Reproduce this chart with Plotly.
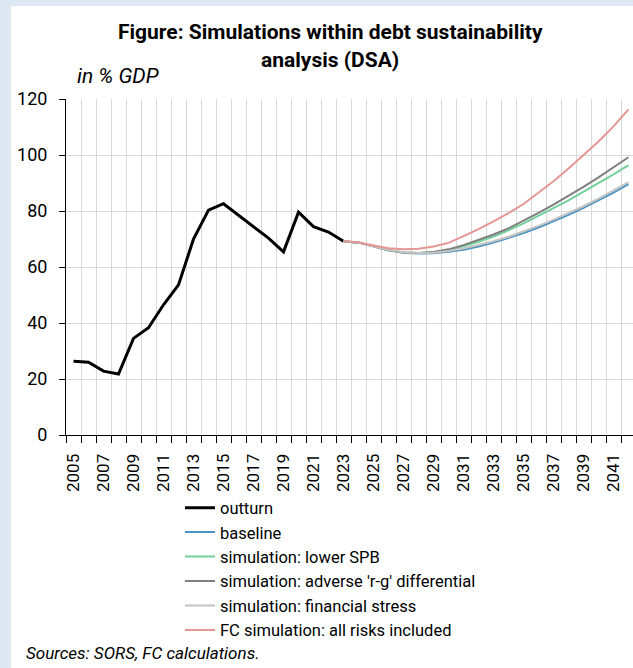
import plotly.graph_objects as go

# Gross general government debt, % of GDP
outturn_years = list(range(2005, 2024))
outturn = [26.3, 26.0, 22.8, 21.8, 34.5, 38.3, 46.5, 53.6, 70.0, 80.3,
           82.6, 78.5, 74.2, 70.3, 65.4, 79.6, 74.4, 72.5, 69.2]

proj_years = list(range(2023, 2043))
baseline = [69.2, 68.7, 67.4, 66.0, 65.1, 64.8, 64.9, 65.4, 66.2, 67.3,
            68.7, 70.3, 72.1, 74.1, 76.3, 78.6, 81.1, 83.8, 86.6, 89.6]
lower_spb = [69.2, 68.7, 67.4, 66.0, 65.2, 65.0, 65.3, 66.1, 67.4, 69.0,
             70.9, 73.1, 75.6, 78.2, 81.0, 83.8, 86.8, 89.9, 93.1, 96.4]
adverse_rg = [69.2, 68.7, 67.4, 66.0, 65.2, 65.0, 65.4, 66.3, 67.8, 69.6,
              71.6, 73.8, 76.5, 79.3, 82.3, 85.4, 88.6, 92.0, 95.5, 99.2]
fin_stress = [69.2, 68.7, 67.4, 66.1, 65.3, 65.0, 65.1, 65.7, 66.6, 67.8,
              69.2, 70.8, 72.7, 74.7, 76.9, 79.2, 81.7, 84.4, 87.3, 90.3]
all_risks = [69.2, 68.8, 67.7, 66.7, 66.3, 66.5, 67.3, 68.6, 71.0, 73.5,
             76.3, 79.2, 82.5, 86.4, 90.6, 95.2, 100.0, 104.8, 110.2, 116.3]

tick_years = list(range(2005, 2042, 2))
tick_labels = [str(y) for y in tick_years]
boundaries = [y + 0.5 for y in range(2004, 2043)]

FONT = "Roboto, Liberation Sans, sans-serif"
PANEL_BLUE = "#dde8f4"
GRID = "#d9d9d9"

fig = go.Figure()

series = [
    ("outturn", outturn_years, outturn, "#000000", 3),
    ("baseline", proj_years, baseline, "#4b93c3", 2),
    ("simulation: lower SPB", proj_years, lower_spb, "#72d19b", 2),
    ("simulation: adverse 'r-g' differential", proj_years, adverse_rg, "#7f7f7f", 2),
    ("simulation: financial stress", proj_years, fin_stress, "#c4c4c4", 2),
    ("FC simulation: all risks included", proj_years, all_risks, "#e39693", 2),
]
for name, xs, ys, color, width in series:
    fig.add_trace(go.Scatter(x=xs, y=ys, name=name, mode="lines",
                             line=dict(color=color, width=width)))

fig.update_layout(
    width=633, height=668,
    margin=dict(l=66, r=0, t=99, b=233),
    paper_bgcolor="white", plot_bgcolor="white",
    font=dict(family=FONT, size=18, color="#000000"),
    showlegend=True,
    legend=dict(x=0.201, y=-0.165, xanchor="left", yanchor="top",
                bgcolor="rgba(0,0,0,0)", font=dict(size=16.5),
                tracegroupgap=0, itemwidth=30),
    xaxis=dict(
        range=[2004.5, 2042.3], tickmode="array", tickvals=tick_years,
        ticktext=tick_labels, tickangle=-90, ticks="", showgrid=False,
        showline=True, linecolor="#000000", linewidth=1, zeroline=False,
        tickfont=dict(size=17), ticklabelstandoff=11,
        minor=dict(tickmode="array", tickvals=boundaries, ticks="outside",
                   ticklen=7, tickcolor="#000000", tickwidth=1,
                   showgrid=True, gridcolor=GRID, gridwidth=1),
    ),
    yaxis=dict(
        range=[0, 120], tickmode="linear", tick0=0, dtick=20,
        ticks="outside", ticklen=6, tickcolor="#000000",
        showgrid=True, gridcolor=GRID, gridwidth=1,
        showline=True, linecolor="#000000", linewidth=1, zeroline=False,
        tickfont=dict(size=18), ticklabelstandoff=8,
    ),
)

# light blue frame along the left and top edges
fig.add_shape(type="rect", xref="paper", yref="paper", layer="below",
              x0=-0.2, x1=(11 - 66) / 567, y0=-0.8, y1=1.4,
              fillcolor=PANEL_BLUE, line=dict(width=0))
fig.add_shape(type="rect", xref="paper", yref="paper", layer="below",
              x0=-0.2, x1=1.1, y0=(435 - 6) / 336, y1=1.4,
              fillcolor=PANEL_BLUE, line=dict(width=0))

def py(pixel_y):
    return (435 - pixel_y) / 336

def px(pixel_x):
    return (pixel_x - 66) / 567

fig.add_annotation(text="<b>Figure: Simulations within debt sustainability</b>",
                   xref="paper", yref="paper", x=px(330), y=py(32),
                   xanchor="center", yanchor="middle", showarrow=False,
                   font=dict(size=21))
fig.add_annotation(text="<b>analysis (DSA)</b>",
                   xref="paper", yref="paper", x=px(330), y=py(60),
                   xanchor="center", yanchor="middle", showarrow=False,
                   font=dict(size=21))
fig.add_annotation(text="<i>in % GDP</i>",
                   xref="paper", yref="paper", x=px(75), y=py(76),
                   xanchor="left", yanchor="middle", showarrow=False,
                   font=dict(size=21))
fig.add_annotation(text="<i>Sources: SORS, FC calculations.</i>",
                   xref="paper", yref="paper", x=px(24), y=py(653),
                   xanchor="left", yanchor="middle", showarrow=False,
                   font=dict(size=17))

fig.write_html("out.html")
